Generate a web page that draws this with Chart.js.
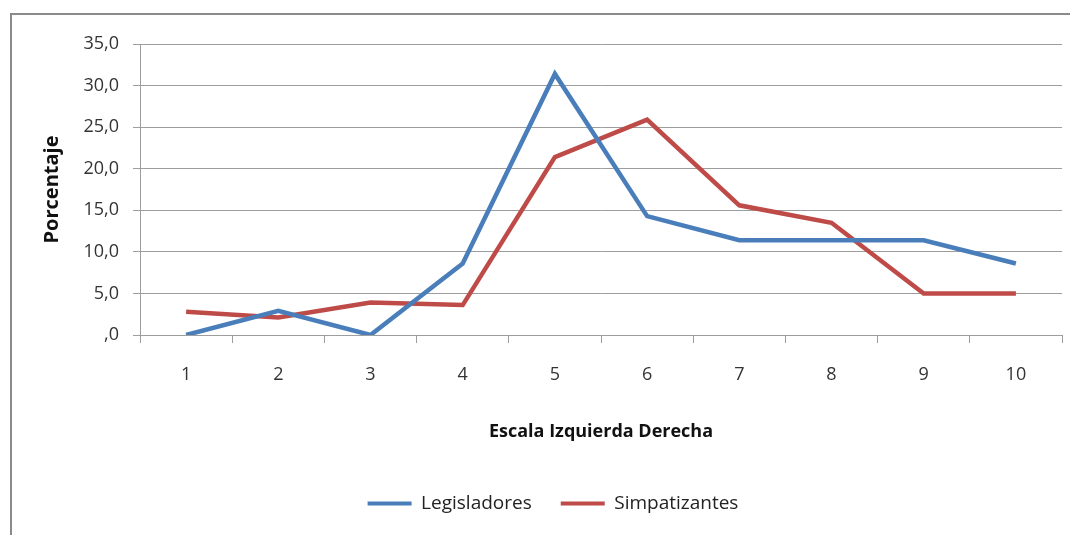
<!DOCTYPE html>
<html>
<head>
<meta charset="utf-8">
<script src="https://cdn.jsdelivr.net/npm/chart.js@4/dist/chart.umd.min.js"></script>
<style>
  html, body { margin:0; padding:0; background:#fff; }
  #wrap { width:1070px; height:535px; }
</style>
</head>
<body>
<div id="wrap"><canvas id="chart" width="1070" height="535"></canvas></div>
<script>
// ---- data ----
const categories = ['1','2','3','4','5','6','7','8','9','10'];
const legisladores = [0, 2.9, 0, 8.6, 31.4, 14.3, 11.4, 11.4, 11.4, 8.6];
const simpatizantes = [2.8, 2.1, 3.9, 3.6, 21.4, 25.9, 15.6, 13.5, 5.0, 5.0];
const yTicks = [0, 5, 10, 15, 20, 25, 30, 35];

const FONT = "'Open Sans', 'DejaVu Sans', sans-serif";
const GRID = '#9d9d9d';

// frame around the chart (left and top edges visible)
const framePlugin = {
  id: 'frame',
  beforeDraw(chart){
    const c = chart.ctx;
    c.save();
    c.strokeStyle = '#8a8a8a';
    c.lineWidth = 2;
    c.strokeRect(11, 14, 1100, 600);
    c.restore();
  }
};

const ctx = document.getElementById('chart').getContext('2d');
new Chart(ctx, {
  type: 'line',
  data: {
    labels: categories,
    datasets: [
      { label: 'Legisladores', data: legisladores, borderColor: '#4a7ebb', backgroundColor: '#4a7ebb',
        borderWidth: 4.5, pointRadius: 0, tension: 0 },
      { label: 'Simpatizantes', data: simpatizantes, borderColor: '#be4b48', backgroundColor: '#be4b48',
        borderWidth: 4.5, pointRadius: 0, tension: 0 }
    ]
  },
  options: {
    responsive: false,
    animation: false,
    layout: { padding: { left: 44, right: 8, top: 44, bottom: 12 } },
    plugins: {
      tooltip: { enabled: false },
      legend: {
        position: 'bottom',
        labels: {
          font: { family: FONT, size: 19 },
          color: '#222',
          boxWidth: 44,
          boxHeight: 4,
          padding: 29,
          generateLabels(chart){
            return Chart.defaults.plugins.legend.labels.generateLabels(chart).map(l => ({...l, lineWidth: 0}));
          }
        }
      }
    },
    scales: {
      x: {
        offset: true,
        grid: { offset: true, drawOnChartArea: false, drawTicks: true, tickLength: 8, color: GRID },
        border: { color: GRID, width: 1 },
        ticks: { font: { family: FONT, size: 18 }, color: '#333', padding: 21, maxRotation: 0 },
        title: { display: true, text: 'Escala Izquierda Derecha', color: '#111',
                 font: { family: FONT, size: 18, weight: 'bold' }, padding: { top: 0, bottom: 22 } },
        afterFit(scale){ scale.height = 130; }
      },
      y: {
        min: 0, max: 35,
        afterBuildTicks(scale){ scale.ticks = yTicks.map(v => ({ value: v })); },
        grid: { color: GRID, tickLength: 7 },
        border: { color: GRID, width: 1 },
        ticks: {
          font: { family: FONT, size: 18 }, color: '#333', padding: 14,
          callback(v){ return v === 0 ? ',0' : v.toFixed(1).replace('.', ','); }
        },
        title: { display: true, text: 'Porcentaje', color: '#111',
                 font: { family: FONT, size: 20, weight: 'bold' }, padding: { top: -4, bottom: 0 } },
        afterFit(scale){ scale.width = 96; }
      }
    }
  },
  plugins: [framePlugin]
});
</script>
</body>
</html>
